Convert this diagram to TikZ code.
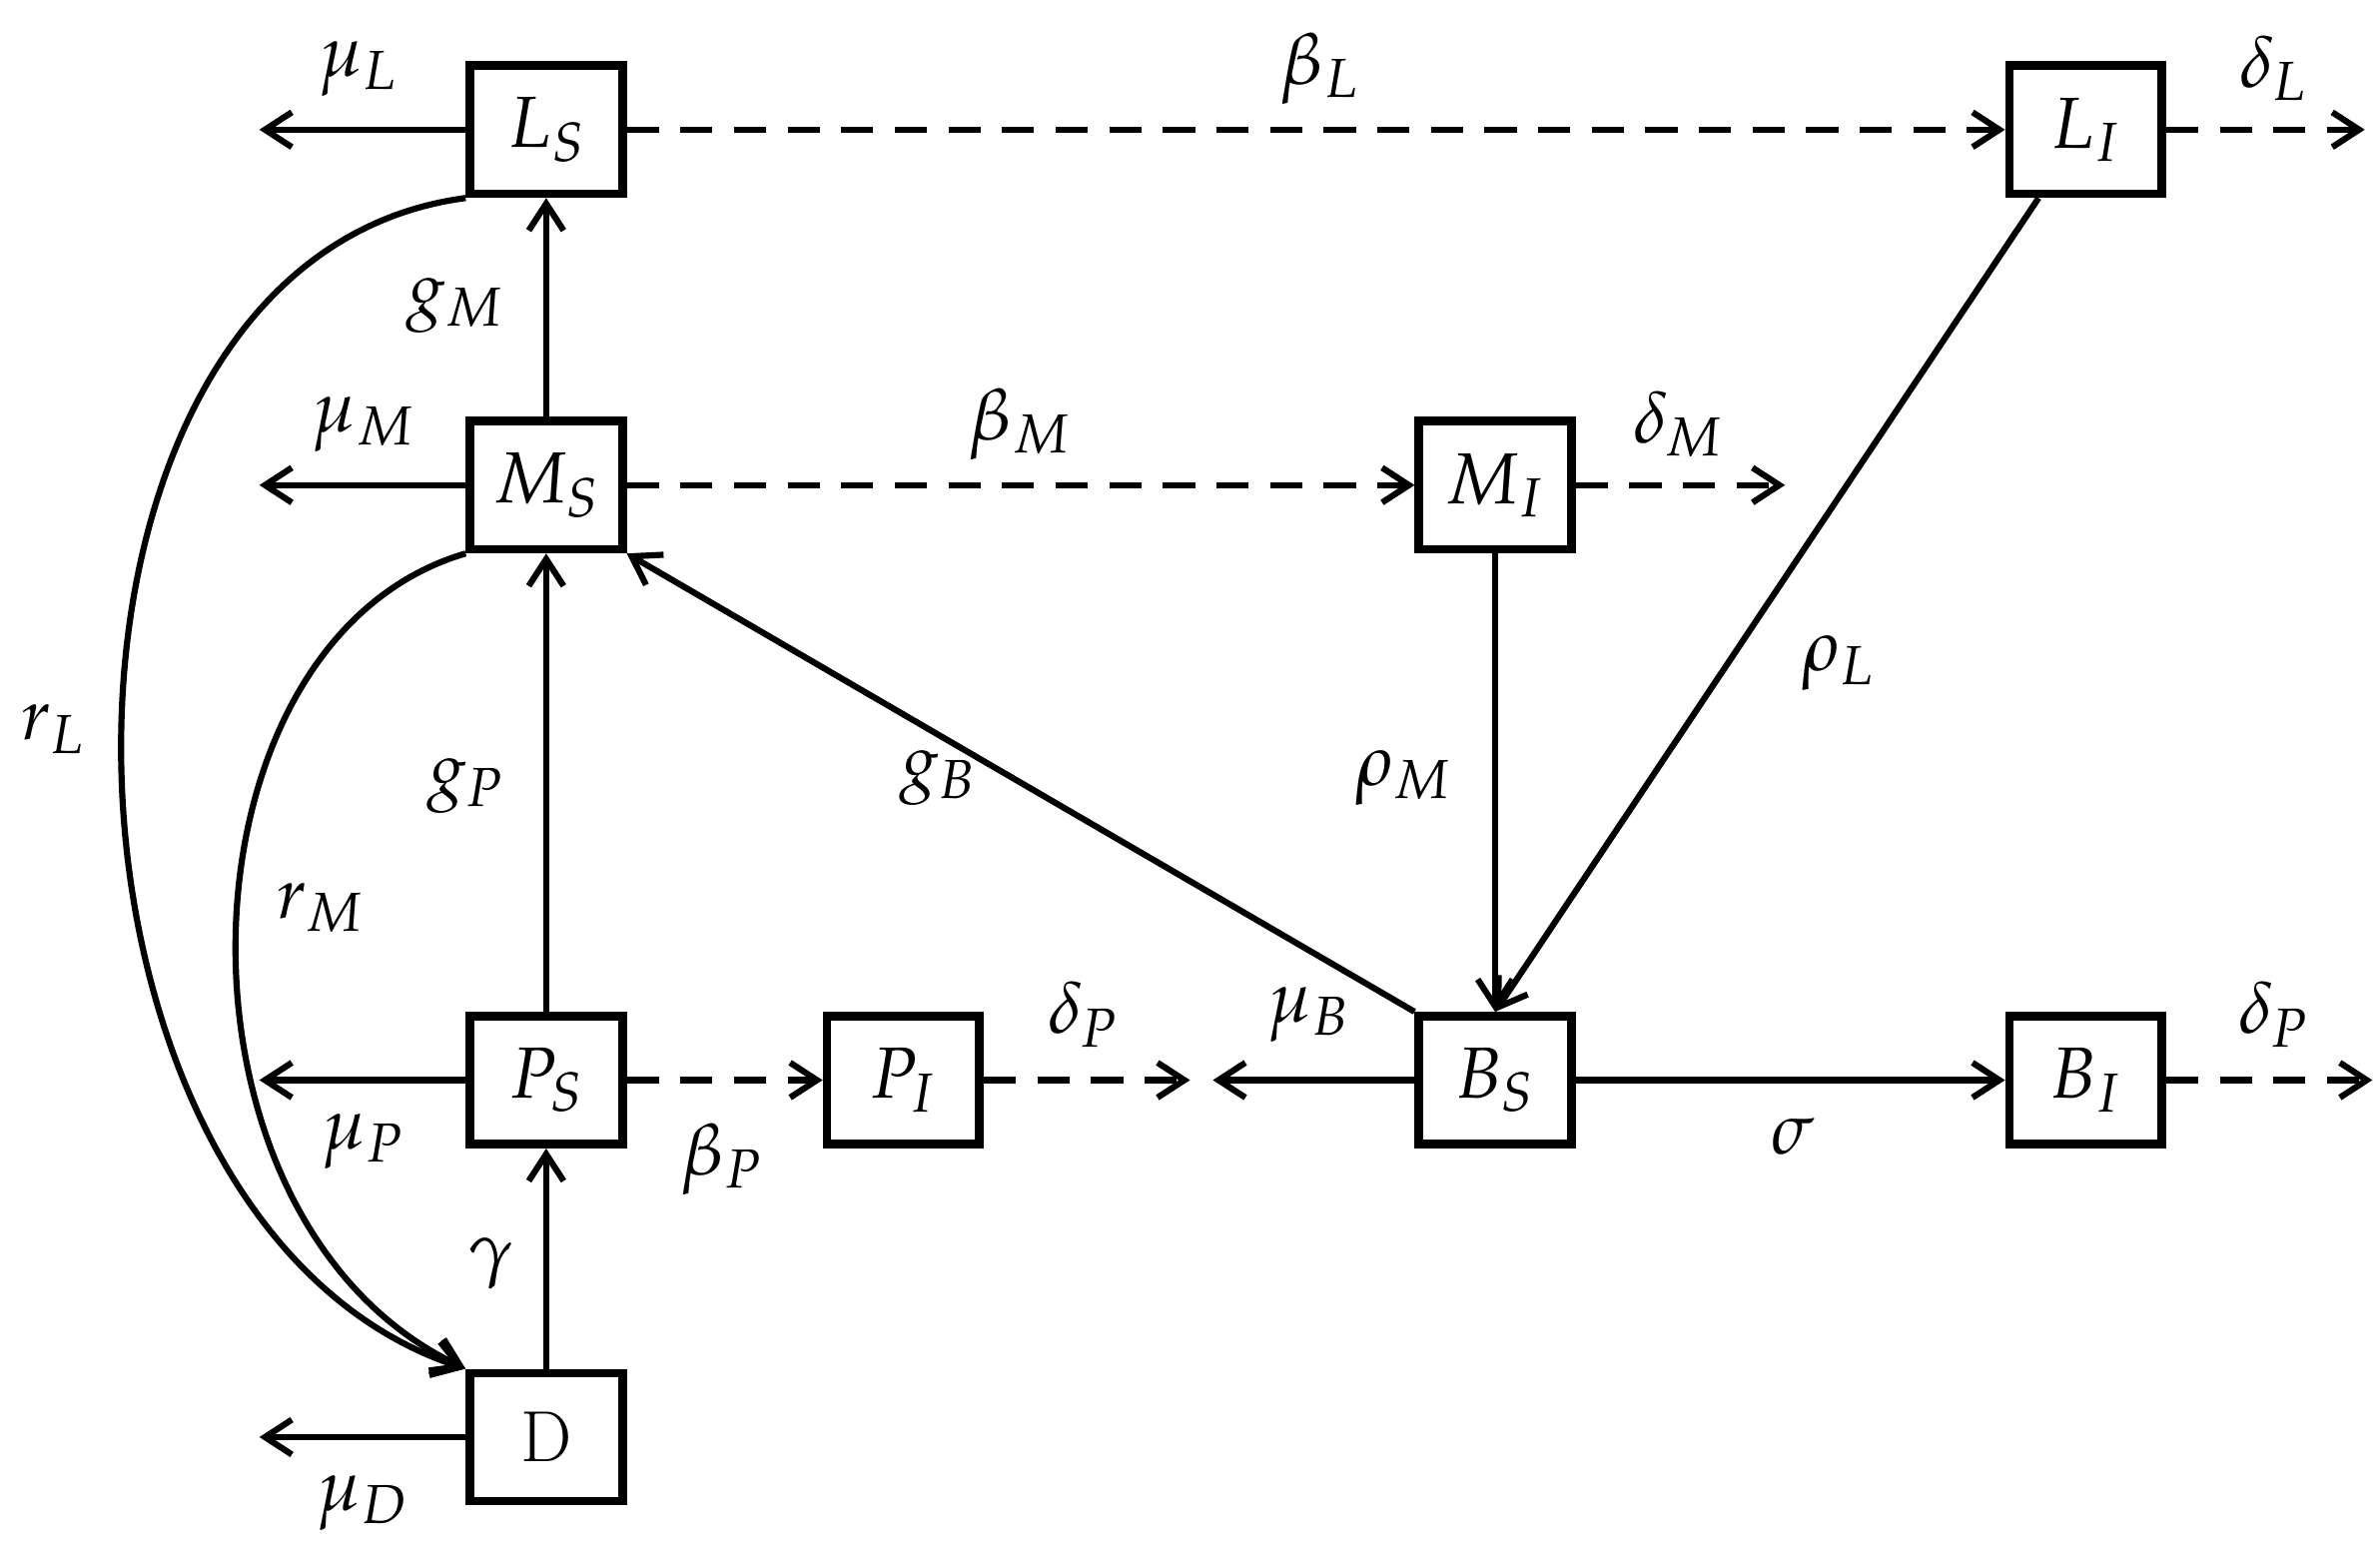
\documentclass[tikz,border=0pt]{standalone}
\usepackage{mathpazo}
\usetikzlibrary{arrows.meta}
\begin{document}
\begin{tikzpicture}[x=0.02cm,y=-0.02cm,
 box/.style={draw,line width=3.2pt,minimum width=2.0cm,minimum height=1.68cm,font=\fontsize{27}{30}\selectfont},
 lab/.style={font=\fontsize{27}{30}\selectfont},
 ar/.style={line width=2.3pt,-{Straight Barb[length=10pt,width=13pt,line width=2.3pt]}},
 da/.style={ar,dashed,dash pattern=on 12pt off 8pt}]
\useasboundingbox (0,0) rectangle (1560,1010);
\node[box] (LS) at (358,85) {$L_S$};
\node[box] (LI) at (1367,85) {$L_I$};
\node[box] (MS) at (358,318) {$M_S$};
\node[box] (MI) at (980,318) {$M_I$};
\node[box] (PS) at (358,708) {$P_S$};
\node[box] (PI) at (592,708) {$P_I$};
\node[box] (BS) at (980,708) {$B_S$};
\node[box] (BI) at (1367,708) {$B_I$};
\node[box] (D) at (358,942) {D};
\coordinate (eL) at (170,85); \coordinate (eLI) at (1550,85);
\coordinate (eM) at (170,318); \coordinate (eMI) at (1170,318);
\coordinate (eP) at (170,708); \coordinate (ePI) at (780,708);
\coordinate (eB) at (795,708); \coordinate (eBI) at (1555,708);
\coordinate (eD) at (170,942);
\draw[ar] (LS) -- (eL); \draw[da] (LS) -- (LI); \draw[da] (LI) -- (eLI);
\draw[ar] (MS) -- (eM); \draw[da] (MS) -- (MI); \draw[da] (MI) -- (eMI);
\draw[ar] (PS) -- (eP); \draw[da] (PS) -- (PI); \draw[da] (PI) -- (ePI);
\draw[ar] (BS) -- (eB); \draw[ar] (BS) -- (BI); \draw[da] (BI) -- (eBI);
\draw[ar] (D) -- (eD);
\draw[ar] (MS) -- (LS); \draw[ar] (PS) -- (MS); \draw[ar] (D) -- (PS);
\draw[ar] (BS.north west) -- (MS.south east);
\draw[ar] (MI) -- (BS);
\draw[ar] (LI.south west) ++(22,0) -- (BS.north);
\draw[ar] (LS.south west) .. controls (0,170) and (10,800) .. (D.north west);
\draw[ar] (MS.south west) .. controls (110,420) and (100,800) .. (D.north west);
\node[lab] at (235,45) {$\mu_L$};
\node[lab] at (865,45) {$\beta_L$};
\node[lab] at (1490,45) {$\delta_L$};
\node[lab] at (298,200) {$g_M$};
\node[lab] at (238,278) {$\mu_M$};
\node[lab] at (668,278) {$\beta_M$};
\node[lab] at (1100,278) {$\delta_M$};
\node[lab] at (1205,435) {$\rho_L$};
\node[lab] at (35,478) {$r_L$};
\node[lab] at (305,515) {$g_P$};
\node[lab] at (615,510) {$g_B$};
\node[lab] at (920,510) {$\rho_M$};
\node[lab] at (210,595) {$r_M$};
\node[lab] at (710,665) {$\delta_P$};
\node[lab] at (858,665) {$\mu_B$};
\node[lab] at (1490,665) {$\delta_P$};
\node[lab] at (238,748) {$\mu_P$};
\node[lab] at (473,760) {$\beta_P$};
\node[lab] at (1175,745) {$\sigma$};
\node[lab] at (322,828) {$\gamma$};
\node[lab] at (238,985) {$\mu_D$};
\end{tikzpicture}
\end{document}
